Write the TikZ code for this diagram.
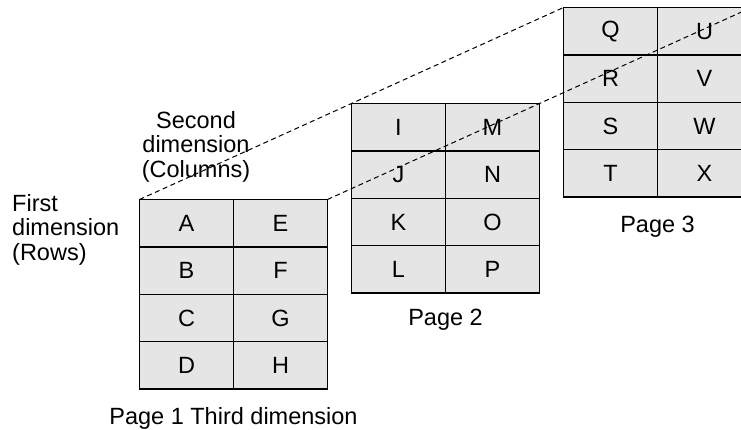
\documentclass[tikz,border=0pt]{standalone}
\usepackage{fontspec}
\setmainfont{Liberation Sans}
\usepackage{tikz}
\usetikzlibrary{positioning}

\begin{document}
\begin{tikzpicture}[
    x=1pt, y=-1pt,
    font=\fontsize{23.5}{24.2}\selectfont,
    cell/.style={rectangle, draw, line width=1.5pt, fill=black!10, minimum width=94pt, minimum height=47.4pt, inner sep=0pt, outer sep=0pt},
    guide/.style={dashed, dash pattern=on 5pt off 3.5pt, line width=1pt},
    lbl/.style={inner sep=0pt, align=center}
]
    \useasboundingbox (0,0) rectangle (741,430);

    % page 1
    \node[cell, anchor=north west] (A) at (139.5,199.5) {A};
    \node[cell, below=0pt of A] (B) {B};
    \node[cell, below=0pt of B] (C) {C};
    \node[cell, below=0pt of C] (D) {D};
    \node[cell, right=0pt of A] (E) {E};
    \node[cell, right=0pt of B] (F) {F};
    \node[cell, right=0pt of C] (G) {G};
    \node[cell, right=0pt of D] (H) {H};

    % page 2
    \node[cell, anchor=north west] (I) at (351.5,103.5) {I};
    \node[cell, below=0pt of I] (J) {J};
    \node[cell, below=0pt of J] (K) {K};
    \node[cell, below=0pt of K] (L) {L};
    \node[cell, right=0pt of I] (M) {M};
    \node[cell, right=0pt of J] (N) {N};
    \node[cell, right=0pt of K] (O) {O};
    \node[cell, right=0pt of L] (P) {P};

    % page 3
    \node[cell, anchor=north west] (Q) at (563.5,7.5) {Q};
    \node[cell, below=0pt of Q] (R) {R};
    \node[cell, below=0pt of R] (S) {S};
    \node[cell, below=0pt of S] (T) {T};
    \node[cell, right=0pt of Q] (U) {U};
    \node[cell, right=0pt of R] (V) {V};
    \node[cell, right=0pt of S] (W) {W};
    \node[cell, right=0pt of T] (X) {X};

    \draw[guide] (A.north west) -- (Q.north west);
    \draw[guide] (E.north east) -- (U.north east);

    % labels
    \node[lbl, anchor=north] (cols) at (196,111.5) {Second\\dimension\\(Columns)};
    \node[lbl, align=left, anchor=north west] (rows) at (12,194.5) {First\\dimension\\(Rows)};
    \node[lbl, anchor=base] (page1) at ([yshift=-35.5pt]D.south east) {Page 1 Third dimension};
    \node[lbl, anchor=base] (page2) at ([yshift=-32.5pt]L.south east) {Page 2};
    \node[lbl, anchor=base] (page3) at ([yshift=-35pt]T.south east) {Page 3};
\end{tikzpicture}
\end{document}
